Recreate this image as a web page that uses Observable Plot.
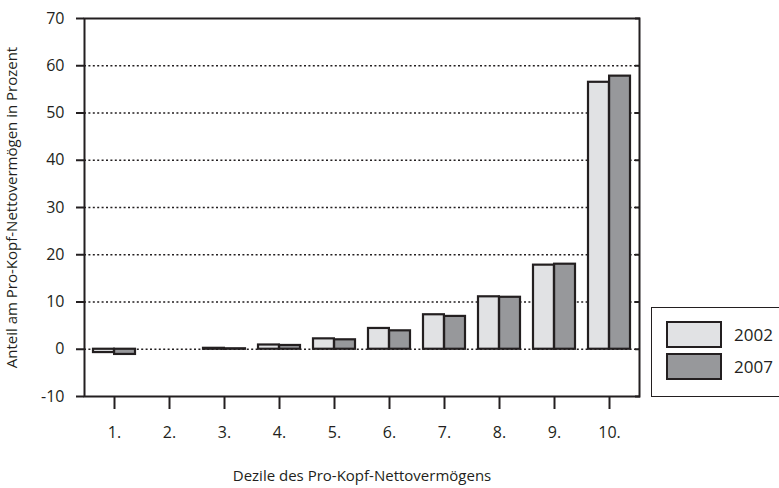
<!DOCTYPE html>
<html>
<head>
<meta charset="utf-8">
<script src="https://cdn.jsdelivr.net/npm/d3@7"></script>
<script src="https://cdn.jsdelivr.net/npm/@observablehq/plot@0.6"></script>
<style>
  html, body { margin: 0; padding: 0; background: #fff; }
  #wrap { position: relative; width: 779px; height: 488px; overflow: hidden; font-family: "Open Sans", sans-serif; color: #231f20; }
  #legend { position: absolute; left: 651px; top: 307px; width: 140px; height: 90px; border: 1.5px solid #231f20; box-sizing: border-box; }
  .item { position: absolute; left: 14px; display: flex; align-items: center; font-size: 17px; }
  .sw { width: 52px; height: 23px; border: 2px solid #231f20; margin-right: 12px; }
</style>
</head>
<body>
<div id="wrap"></div>
<script>
const deciles = ["1.", "2.", "3.", "4.", "5.", "6.", "7.", "8.", "9.", "10."];
const years = ["2002", "2007"];
const values2002 = [-0.7, 0, 0.2, 0.9, 2.2, 4.4, 7.3, 11.1, 17.8, 56.5];
const values2007 = [-1.1, 0, 0.1, 0.8, 2.0, 3.9, 6.95, 11.0, 18.0, 57.8];
const yTicks = [-10, 0, 10, 20, 30, 40, 50, 60, 70];
const gridTicks = [0, 10, 20, 30, 40, 50, 60];
const colors = ["#e1e2e4", "#97989b"];
const xLabel = "Dezile des Pro-Kopf-Nettovermögens";
const yLabel = "Anteil am Pro-Kopf-Nettovermögen in Prozent";

const rows = [];
deciles.forEach((d, i) => {
  rows.push({decile: d, year: years[0], value: values2002[i]});
  rows.push({decile: d, year: years[1], value: values2007[i]});
});

const half = 21.1;
const ink = "#231f20";

const axisMarks = typeof Plot.axisY === "function" ? [
  Plot.axisY({anchor: "left", ticks: yTicks, tickSize: 8, tickPadding: 12, tickFormat: d => String(d),
              label: yLabel, labelAnchor: "center", labelArrow: false, labelOffset: 78, strokeWidth: 2}),
  Plot.axisY({anchor: "right", ticks: yTicks, tickSize: -5, tickFormat: () => "", label: null, strokeWidth: 1.5})
] : [];

const chart = Plot.plot({
  width: 779,
  height: 488,
  marginLeft: 84,
  marginRight: 140,
  marginTop: 18,
  marginBottom: 92,
  style: {fontFamily: "'Open Sans', sans-serif", fontSize: "16px", color: ink, background: "#fff"},
  x: {domain: deciles, paddingInner: 0.24, paddingOuter: 0.12, label: xLabel,
      labelAnchor: "center", labelOffset: 84, tickSize: 13, tickPadding: 17},
  y: {domain: [-10, 70], ticks: yTicks, label: yLabel,
      labelAnchor: "center", labelArrow: false, labelOffset: 78, tickSize: 8, tickPadding: 12, tickFormat: d => String(d)},
  color: {domain: years, range: colors},
  marks: [
    Plot.ruleY(gridTicks, {stroke: ink, strokeWidth: 1.3, strokeDasharray: "2,2.4"}),
    Plot.barY(rows.filter(r => r.year === years[0] && r.value !== 0), {
      x: "decile", y: "value", fill: "year", stroke: ink, strokeWidth: 2.2, insetRight: half
    }),
    Plot.barY(rows.filter(r => r.year === years[1] && r.value !== 0), {
      x: "decile", y: "value", fill: "year", stroke: ink, strokeWidth: 2.2, insetLeft: half
    }),
    ...axisMarks,
    Plot.frame({stroke: ink, strokeWidth: 2})
  ]
});
chart.querySelectorAll("g[aria-label$='tick'] path, g[aria-label='x-axis'] path, g[aria-label='y-axis'] path").forEach(p => {
  if (!p.getAttribute("stroke-width")) p.setAttribute("stroke-width", "2");
});
chart.querySelectorAll("g[aria-label='x-axis tick'], g[aria-label='y-axis tick']").forEach(g => {
  if (!g.getAttribute("stroke-width")) g.setAttribute("stroke-width", "2");
});
chart.querySelectorAll("text").forEach(t => {
  if (/[→↑]/.test(t.textContent)) {
    t.textContent = t.textContent.replace(/\s*[→↑]\s*/g, "").trim();
  }
  const s = t.textContent.trim();
  if (s === xLabel || s === yLabel) t.style.fontSize = "15px";
});
const wrap = document.getElementById("wrap");
wrap.appendChild(chart);

const legend = document.createElement("div");
legend.id = "legend";
years.forEach((y, i) => {
  const item = document.createElement("div");
  item.className = "item";
  item.style.top = (i === 0 ? 13 : 45) + "px";
  const sw = document.createElement("div");
  sw.className = "sw";
  sw.style.background = colors[i];
  const t = document.createElement("span");
  t.textContent = y;
  item.appendChild(sw);
  item.appendChild(t);
  legend.appendChild(item);
});
wrap.appendChild(legend);
</script>
</body>
</html>
